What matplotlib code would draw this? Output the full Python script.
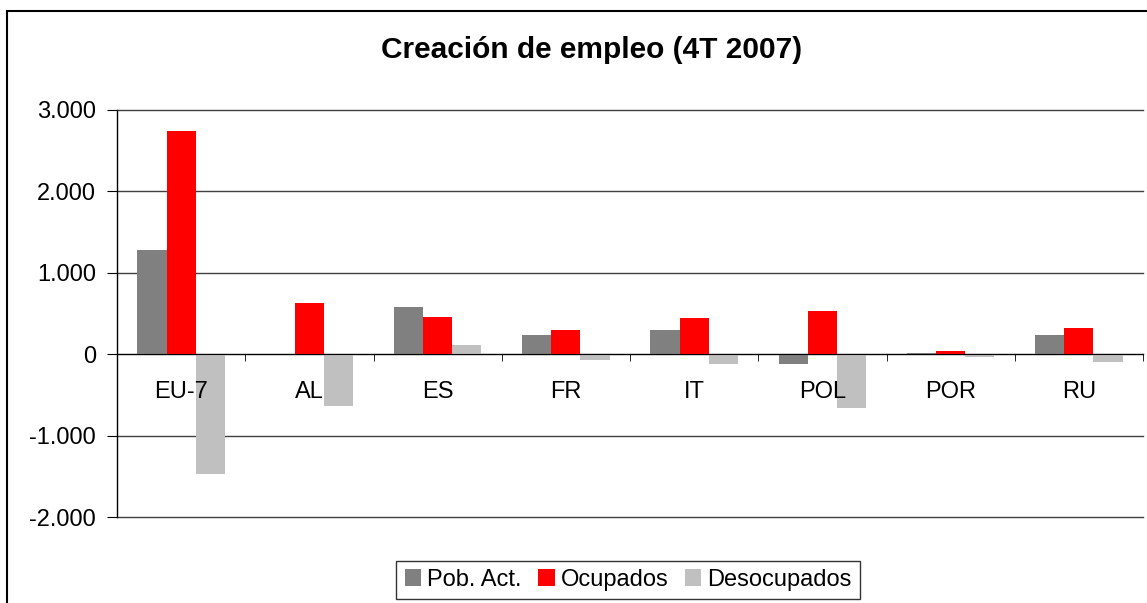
import numpy as np
import matplotlib
matplotlib.use("Agg")
import matplotlib.pyplot as plt
from matplotlib.patches import Rectangle
from matplotlib.ticker import FuncFormatter

plt.rcParams['font.family'] = ['Liberation Sans', 'DejaVu Sans']

categories = ['EU-7', 'AL', 'ES', 'FR', 'IT', 'POL', 'POR', 'RU']
pob_act = [1283, 0, 582, 237, 299, -115, 12, 237]
ocupados = [2746, 631, 459, 299, 446, 533, 41, 324]
desocupados = [-1468, -632, 114, -66, -115, -656, -29, -91]

series = [('Pob. Act.', pob_act, '#808080'),
          ('Ocupados', ocupados, '#FF0000'),
          ('Desocupados', desocupados, '#C0C0C0')]

fig = plt.figure(figsize=(11.47, 6.03), dpi=100)
ax = fig.add_axes([117 / 1147, 1 - 517 / 603, 1026 / 1147, 407 / 603])
ax.set_axisbelow(False)

yticks = list(range(-2000, 3001, 1000))
for yv in yticks:
    ax.axhline(yv, color='#404040', linewidth=1, zorder=0, clip_on=False)

x = np.arange(len(categories))
w = 0.227
for i, (name, vals, col) in enumerate(series):
    ax.bar(x + (i - 1) * w, vals, width=w, color=col, label=name, zorder=1)

ax.set_xlim(-0.5, len(categories) - 0.5)
ax.set_ylim(-2000, 3000)
ax.set_yticks(yticks)
ax.yaxis.set_major_formatter(FuncFormatter(lambda v, p: f'{int(v):,}'.replace(',', '.')))

for s in ['top', 'right']:
    ax.spines[s].set_visible(False)
ax.spines['bottom'].set_position(('data', 0))
ax.spines['left'].set_linewidth(1)

ax.set_xticks(x)
ax.set_xticklabels(categories, fontsize=17)
ax.set_xticks(np.arange(-0.5, len(categories), 1), minor=True)
ax.tick_params(axis='x', which='major', length=0, pad=19)
ax.tick_params(axis='x', which='minor', length=5, direction='out')
ax.tick_params(axis='y', length=7, labelsize=17, pad=8)

fig.text(592 / 1147, 1 - 50 / 603, 'Creación de empleo (4T 2007)',
         ha='center', va='center', fontsize=21.5, fontweight='bold')

leg = ax.legend(loc='center', bbox_to_anchor=(628 / 1147, 1 - 580 / 603),
                bbox_transform=fig.transFigure, ncol=3, fontsize=17,
                frameon=True, fancybox=False, edgecolor='black',
                handlelength=0.7, handleheight=0.7, handletextpad=0.25,
                columnspacing=0.7, borderpad=0.35, borderaxespad=0)
leg.get_frame().set_linewidth(1)

fig.patches.append(Rectangle((7 / 1147, -0.1), 1.2, 1.1 - 11 / 603,
                             transform=fig.transFigure, fill=False,
                             edgecolor='black', linewidth=1.5))

fig.savefig('out.png', dpi=100)
